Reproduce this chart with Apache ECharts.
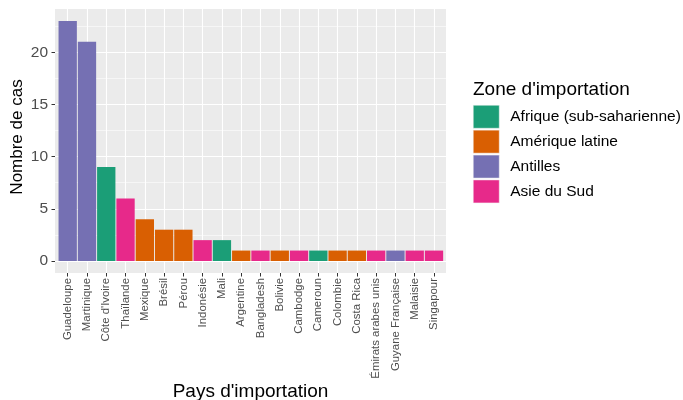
<!DOCTYPE html>
<html>
<head>
<meta charset="utf-8">
<script src="https://cdn.jsdelivr.net/npm/echarts@6/dist/echarts.min.js"></script>
<style>
html,body{margin:0;padding:0;background:#fff;}
#c{width:683px;height:400px;}
</style>
</head>
<body>
<div id="c"></div>
<script>
const categories = ["Guadeloupe","Martinique","Côte d'Ivoire","Thaïlande","Mexique","Brésil","Pérou","Indonésie","Mali","Argentine","Bangladesh","Bolivie","Cambodge","Cameroun","Colombie","Costa Rica","Émirats arabes unis","Guyane Française","Malaisie","Singapour"];
const values = [23,21,9,6,4,3,3,2,2,1,1,1,1,1,1,1,1,1,1,1];
const zoneOf = ["Antilles","Antilles","Afrique (sub-saharienne)","Asie du Sud","Amérique latine","Amérique latine","Amérique latine","Asie du Sud","Afrique (sub-saharienne)","Amérique latine","Asie du Sud","Amérique latine","Asie du Sud","Afrique (sub-saharienne)","Amérique latine","Amérique latine","Asie du Sud","Antilles","Asie du Sud","Asie du Sud"];
const zones = ["Afrique (sub-saharienne)","Amérique latine","Antilles","Asie du Sud"];
const zoneColors = ["#1B9E77","#D95F02","#7570B3","#E7298A"];
const yTicks = [0,5,10,15,20];

// panel geometry (ggplot-like)
const PL = 55, PT = 9, PW = 391, PH = 264;
const firstC = 67.7, lastC = 434;
const dataMax = Math.max(...values);
const yLo = -0.05*dataMax, yHi = dataMax*1.05;
const pxPerUnitY = PH/(yHi - yLo);
const zeroY = PT + (yHi)*pxPerUnitY;
const n = categories.length;
const ux = (lastC - firstC)/(n - 1);
const top25 = zeroY - 25*pxPerUnitY;

const series = zones.map((z, zi) => ({
  type: 'bar',
  name: z,
  stack: 'all',
  xAxisIndex: 1, yAxisIndex: 1,
  barCategoryGap: '5%',
  itemStyle: {color: zoneColors[zi]},
  data: values.map((v, i) => zoneOf[i] === z ? v : '-')
}));

const chart = echarts.init(document.getElementById('c'), null, {renderer: 'canvas'});
chart.setOption({
  animation: false,
  textStyle: {fontFamily: 'Liberation Sans, Arial, sans-serif'},
  graphic: [
    {type: 'rect', z: -100, silent: true, shape: {x: PL, y: PT, width: PW, height: PH}, style: {fill: '#EBEBEB'}},
    {type: 'text', x: 17, y: PT + PH/2 - 4, rotation: Math.PI/2, style: {text: 'Nombre de cas', font: '17px "Liberation Sans", Arial, sans-serif', fill: '#000', align: 'center', verticalAlign: 'middle'}},
    {type: 'text', x: PL + PW/2, y: 392, style: {text: "Pays d'importation", font: '19px "Liberation Sans", Arial, sans-serif', fill: '#000', align: 'center', verticalAlign: 'middle'}},
    {type: 'text', x: 473, y: 90, style: {text: "Zone d'importation", font: '19px "Liberation Sans", Arial, sans-serif', fill: '#000', align: 'left', verticalAlign: 'middle'}}
  ],
  legend: {
    orient: 'vertical', left: 473, top: 105, padding: 0,
    icon: 'rect', itemWidth: 26, itemHeight: 23, itemGap: 1.4,
    itemStyle: {borderColor: '#F2F2F2', borderWidth: 0.5},
    textStyle: {fontSize: 15.5, color: '#000', fontFamily: 'Liberation Sans, Arial, sans-serif', padding: [0,0,0,6]},
    data: zones
  },
  grid: [
    {left: PL, top: top25, width: PW, height: zeroY - top25},
    {left: firstC - ux/2, top: top25, width: n*ux, height: zeroY - top25},
    {left: firstC, top: PT, width: lastC - firstC, height: PH}
  ],
  xAxis: [
    {gridIndex: 0, type: 'value', show: false, min: 0, max: 1},
    {gridIndex: 1, type: 'category', data: categories, show: false},
    {gridIndex: 2, type: 'category', data: categories, boundaryGap: false,
     axisLine: {show: false},
     axisTick: {show: true, length: 3.5, lineStyle: {color: '#333333', width: 1}},
     splitLine: {show: true, lineStyle: {color: '#FFFFFF', width: 1.1}},
     axisLabel: {rotate: 90, interval: 0, fontSize: 11.4, color: '#4D4D4D', margin: 5}}
  ],
  yAxis: [
    {gridIndex: 0, type: 'value', min: 0, max: 25, interval: 5,
     axisLine: {show: false},
     axisTick: {show: true, length: 3.5, customValues: yTicks, lineStyle: {color: '#333333', width: 1}},
     axisLabel: {customValues: yTicks, fontSize: 15.5, color: '#4D4D4D', margin: 7},
     splitLine: {show: true, lineStyle: {color: '#FFFFFF', width: 1.1}},
     minorTick: {show: false, splitNumber: 2},
     minorSplitLine: {show: true, lineStyle: {color: '#FFFFFF', width: 0.55}}},
    {gridIndex: 1, type: 'value', min: 0, max: 25, show: false},
    {gridIndex: 2, type: 'value', show: false}
  ],
  series: series
});
</script>
</body>
</html>
